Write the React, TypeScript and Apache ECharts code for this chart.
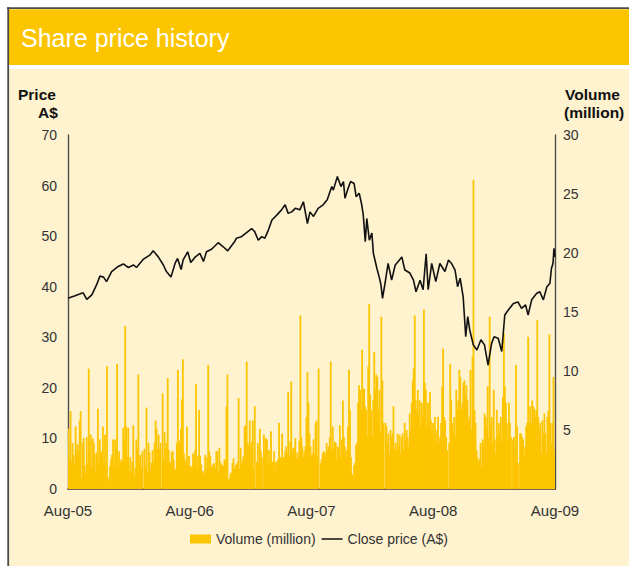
import React, { useEffect, useRef } from "react";
import * as echarts from "echarts";

// X tick labels (one every 12 months from Aug-05)
const tickLabels = ["Aug-05", "Aug-06", "Aug-07", "Aug-08", "Aug-09"];

// Close price: months since Aug-05, and price in A$
const priceMonths = [
  0.0, 0.7, 1.35, 1.5, 1.85, 2.35, 2.8, 3.15, 3.5, 3.8, 4.3, 4.95, 5.45, 5.95, 6.45, 6.75, 7.4, 8.1, 8.4, 8.9,
  9.4, 9.7, 10.15, 10.55, 10.8, 11.15, 11.35, 11.8, 12.1, 12.5, 13.0, 13.35, 13.65, 14.15, 14.8, 15.3, 15.75,
  16.15, 16.45, 16.6, 17.1, 17.6, 18.1, 18.4, 18.75, 19.1, 19.4, 19.75, 20.1, 20.6, 21.05, 21.4, 21.7, 22.05,
  22.4, 22.85, 23.2, 23.6, 23.85, 24.2, 24.65, 25.15, 25.55, 26.0, 26.15, 26.55, 26.9, 27.15, 27.3, 27.55,
  27.85, 28.2, 28.4, 28.7, 28.95, 29.1, 29.3, 29.45, 29.7, 29.95, 30.1, 30.45, 30.7, 30.85, 31.0, 31.25,
  31.55, 31.9, 32.25, 32.55, 32.9, 33.2, 33.7, 34.05, 34.3, 34.7, 35.0, 35.3, 35.5, 35.85, 36.25, 36.65,
  37.15, 37.5, 37.8, 38.15, 38.4, 38.65, 38.95, 39.2, 39.4, 39.6, 39.95, 40.3, 40.7, 41.05, 41.25, 41.4,
  41.75, 42.0, 42.4, 42.75, 43.05, 43.4, 43.9, 44.35, 44.7, 45.1, 45.35, 45.7, 46.2, 46.5, 46.85, 47.2,
  47.5, 47.65, 47.8, 47.9, 48.0,
];
const priceValues = [
  37.7, 38.2, 38.7, 38.8, 37.5, 38.4, 40.3, 42.1, 41.9, 41.0, 43.0, 44.0, 44.5, 43.8, 44.3, 43.8, 45.4, 46.3, 47.1, 45.9,
  44.3, 43.0, 41.9, 44.6, 45.6, 43.4, 45.3, 46.9, 44.8, 45.8, 46.6, 45.0, 46.9, 47.4, 48.7, 47.9, 47.1,
  48.2, 49.0, 49.6, 49.9, 50.7, 51.5, 50.9, 49.2, 49.9, 49.6, 51.2, 53.2, 54.2, 55.2, 56.2, 54.5, 54.8,
  55.5, 55.2, 56.8, 52.5, 54.8, 53.9, 55.5, 56.2, 57.2, 59.8, 59.1, 61.8, 59.8, 60.8, 57.5, 59.1,
  60.8, 60.4, 57.8, 58.5, 56.2, 54.2, 48.9, 53.5, 49.2, 50.6, 46.6, 43.6, 41.7, 40.3, 37.7, 40.7,
  44.6, 41.3, 44.3, 45.0, 45.9, 43.3, 42.7, 41.3, 39.0, 41.3, 39.4, 46.5, 39.4, 44.6, 41.0, 44.6,
  43.0, 45.3, 44.6, 43.3, 40.0, 41.7, 38.0, 30.1, 34.1, 31.4, 28.5, 27.5, 29.5, 28.5, 26.2, 24.5,
  28.8, 30.1, 29.8, 27.2, 34.4, 35.4, 36.7, 37.0, 35.7, 36.4, 34.4, 37.4, 38.7, 39.0, 37.4, 40.0,
  40.7, 43.6, 44.6, 47.6, 45.9,
];

// Daily-ish traded volume (million), left to right
const volumeMillions = [
  5.1, 2.6, 6.6, 2.3, 3.9, 2.9, 2.0, 5.3, 3.3, 3.8, 3.2, 5.8, 6.6, 0.9, 3.9, 4.3, 2.0, 1.3, 4.4, 2.2,
  10.2, 4.0, 4.6, 1.75, 4.3, 3.9, 3.0, 1.5, 3.1, 6.8, 2.2, 4.2, 3.0, 3.2, 5.3, 2.3, 4.6, 1.9, 10.4, 1.0,
  0.8, 1.9, 2.5, 2.9, 4.2, 1.9, 4.2, 3.4, 10.6, 1.75, 3.2, 2.2, 2.5, 2.3, 5.2, 4.1, 13.8, 5.3, 2.7, 5.2,
  1.5, 2.7, 1.5, 2.3, 5.4, 1.0, 1.8, 4.2, 3.5, 9.7, 2.7, 2.9, 1.75, 3.2, 0, 3.4, 1.9, 6.9, 1.4, 3.9,
  3.1, 1.8, 2.2, 3.3, 2.3, 3.9, 5.8, 5.1, 3.4, 4.6, 3.4, 3.9, 0, 8.1, 2.6, 4.8, 3.4, 3.9, 9.4, 3.3,
  2.2, 2.3, 3.1, 3.2, 2.5, 1.6, 1.7, 3.9, 10.1, 3.8, 4.1, 5.1, 7.6, 11.0, 3.0, 2.5, 2.0, 5.3, 2.2, 2.8,
  1.9, 1.7, 2.0, 3.0, 2.3, 3.3, 8.9, 1.8, 2.8, 6.7, 2.8, 2.1, 1.5, 1.5, 1.2, 2.9, 1.7, 2.7, 10.5, 3.2,
  2.8, 1.75, 2.0, 2.1, 2.2, 1.7, 3.2, 3.2, 1.3, 3.5, 2.3, 2.1, 2.0, 1.9, 2.5, 2.5, 7.0, 9.7, 0.8, 0.9,
  1.3, 1.4, 2.2, 2.6, 1.7, 2.0, 2.1, 2.3, 7.7, 1.7, 3.5, 2.1, 2.5, 2.8, 5.3, 5.4, 10.8, 3.9, 3.6, 5.8,
  3.6, 4.0, 5.8, 1.7, 7.0, 0, 2.3, 3.9, 2.2, 5.1, 3.2, 2.7, 0, 4.6, 3.0, 4.3, 4.2, 2.1, 3.3, 2.5,
  4.9, 2.2, 2.3, 3.2, 1.3, 2.3, 1.9, 2.5, 5.6, 2.7, 2.5, 4.7, 2.7, 2.7, 3.2, 3.6, 3.0, 8.2, 2.7, 4.0,
  9.1, 3.2, 3.5, 3.4, 4.3, 2.6, 3.1, 2.6, 4.1, 14.7, 4.4, 3.6, 2.7, 3.2, 3.6, 6.1, 9.9,
  7.3, 4.7, 3.6, 2.7, 3.0, 4.2, 2.9, 5.6, 5.8, 2.7, 10.2, 0, 2.2, 2.5, 3.0, 3.2, 3.1, 2.9, 3.9, 3.2,
  3.6, 4.4, 10.8, 3.4, 5.3, 3.3, 4.0, 3.9, 2.5, 3.6, 3.3, 5.4, 2.7, 4.2, 7.5, 4.4, 3.6, 2.7, 3.3, 5.3,
  10.1, 6.7, 2.7, 1.3, 1.0, 2.0, 2.2, 3.7, 3.9, 7.3, 8.8, 8.4, 6.7, 11.8, 8.5, 8.5, 7.0, 6.7, 4.4, 10.4,
  15.7, 8.0, 6.7, 4.4, 7.5, 11.6, 8.4, 9.7, 9.5, 6.7, 8.4, 4.7, 14.6, 9.2, 5.6, 0, 5.6, 5.3, 3.9, 4.7,
  3.0, 5.0, 4.4, 4.7, 7.0, 3.3, 3.9, 3.4, 4.7, 3.6, 4.6, 3.0, 4.4, 4.7, 3.3, 5.6, 4.2, 5.0, 4.4, 3.6,
  6.4, 5.0, 7.3, 9.2, 10.2, 14.7, 7.5, 6.7, 8.4, 6.4, 7.5, 5.3, 7.3, 6.1, 15.2, 9.0, 8.4, 5.3, 7.3, 5.6,
  8.2, 5.8, 5.0, 5.6, 4.7, 6.1, 3.9, 5.0, 6.1, 3.9, 4.4, 5.6, 8.7, 11.9, 6.1, 5.8, 4.4, 3.3, 0, 3.9,
  10.6, 7.5, 5.6, 5.0, 6.1, 4.4, 8.4, 6.7, 7.5, 10.1, 9.5, 6.7, 7.3, 9.0, 9.2, 7.8, 8.8, 7.5, 5.8, 6.1,
  10.1, 5.0, 11.2, 26.2, 6.7, 5.6, 3.3, 2.7, 2.2, 2.5, 3.9, 1.9, 4.2, 3.9, 6.4, 6.1, 5.3, 8.7, 4.4, 14.6,
  5.6, 6.1, 3.9, 8.4, 4.2, 3.0, 6.7, 4.4, 5.6, 5.0, 6.1, 3.9, 7.8, 13.2, 8.7, 7.3, 5.6, 4.2, 7.3, 5.6,
  4.4, 0, 4.2, 4.4, 3.3, 10.5, 5.3, 2.2, 0, 4.7, 4.7, 4.4, 4.2, 2.7, 3.6, 5.3, 5.6, 12.9, 5.6, 7.0,
  5.6, 7.5, 7.0, 6.8, 6.1, 6.7, 14.3, 6.1, 5.0, 5.6, 3.0, 5.8, 4.7, 6.4, 4.7, 3.0, 6.1, 6.6, 13.1, 5.6,
  3.9, 5.6, 9.5, 3.3,
];

const FONT = "'Liberation Sans', Arial, Helvetica, sans-serif";
const TEXT = "#333333";
const AXIS = "#4f4f4f";
const YELLOW = "#FDC500";
const CREAM = "#FEF2CF";

export default function App() {
  const ref = useRef<HTMLDivElement>(null);

  useEffect(() => {
    if (!ref.current) return;
    const chart = echarts.init(ref.current, undefined, { renderer: "svg" });
    chart.setOption({
      animation: false,
      backgroundColor: "#ffffff",
      textStyle: { fontFamily: FONT },
      title: {
        text: "Share price history",
        left: 21,
        top: 25,
        padding: 0,
        textStyle: { color: "#ffffff", fontSize: 25, fontWeight: "normal", fontFamily: FONT },
      },
      graphic: [
        { type: "rect", z: -10, silent: true, shape: { x: 8, y: 69, width: 621, height: 497 }, style: { fill: CREAM } },
        { type: "rect", z: -10, silent: true, shape: { x: 8, y: 9.3, width: 621, height: 55.7 }, style: { fill: YELLOW } },
        { type: "line", z: -5, silent: true, shape: { x1: 7, y1: 8.2, x2: 629, y2: 8.2 }, style: { stroke: "#4a4a4a", lineWidth: 1.8 } },
        { type: "line", z: -5, silent: true, shape: { x1: 8.2, y1: 7.3, x2: 8.2, y2: 566 }, style: { stroke: "#4a4a4a", lineWidth: 1.8 } },
        {
          type: "text", left: 18, top: 86, silent: true,
          style: { text: "Price", fill: "#111", font: `bold 15.5px ${FONT}` },
        },
        {
          type: "text", left: 38, top: 104, silent: true,
          style: { text: "A$", fill: "#111", font: `bold 15.5px ${FONT}` },
        },
        {
          type: "text", left: 565, top: 86, silent: true,
          style: { text: "Volume", fill: "#111", font: `bold 15.5px ${FONT}` },
        },
        {
          type: "text", left: 564, top: 104, silent: true,
          style: { text: "(million)", fill: "#111", font: `bold 15.5px ${FONT}` },
        },
      ],
      legend: {
        data: [
          { name: "Volume (million)", icon: "rect" },
          { name: "Close price (A$)", icon: "path://M0 0H21V1.5H0Z" },
        ],
        left: 185,
        top: 527,
        itemWidth: 21,
        itemHeight: 9,
        itemGap: 6,
        selectedMode: false,
        textStyle: { fontSize: 14, color: TEXT, fontFamily: FONT },
      },
      grid: { left: 68, right: 74, top: 135, bottom: 77, containLabel: false },
      xAxis: [
        {
          type: "value",
          min: 0,
          max: 48,
          interval: 12,
          axisLine: { show: true, lineStyle: { color: "#3f3b35", width: 1.7 } },
          axisTick: { show: false },
          splitLine: { show: false },
          axisLabel: {
            margin: 14,
            fontSize: 15,
            color: TEXT,
            fontFamily: FONT,
            formatter: (v: number) => tickLabels[Math.round(v / 12)] ?? "",
          },
        },
        {
          type: "category",
          show: false,
          boundaryGap: true,
          data: volumeMillions.map((_, i) => String(i)),
        },
      ],
      yAxis: [
        {
          type: "value",
          min: 0,
          max: 70,
          interval: 10,
          position: "left",
          axisLine: { show: true, lineStyle: { color: AXIS, width: 1.4 } },
          axisTick: { show: false },
          splitLine: { show: false },
          axisLabel: { margin: 11, fontSize: 14, color: TEXT, fontFamily: FONT },
        },
        {
          type: "value",
          min: 0,
          max: 30,
          interval: 5,
          position: "right",
          axisLine: { show: true, lineStyle: { color: AXIS, width: 1.4 } },
          axisTick: { show: false },
          splitLine: { show: false },
          axisLabel: {
            margin: 8,
            fontSize: 14,
            color: TEXT,
            fontFamily: FONT,
            formatter: (v: number) => (v === 0 ? "" : String(v)),
          },
        },
      ],
      series: [
        {
          name: "Volume (million)",
          type: "bar",
          xAxisIndex: 1,
          yAxisIndex: 1,
          data: volumeMillions,
          barWidth: 1.8,
          itemStyle: { color: YELLOW },
          z: 2,
          silent: true,
        },
        {
          name: "Close price (A$)",
          type: "line",
          xAxisIndex: 0,
          yAxisIndex: 0,
          data: priceMonths.map((m, i) => [m, priceValues[i]]),
          symbol: "none",
          itemStyle: { color: "#111111" },
          lineStyle: { color: "#111111", width: 1.6 },
          z: 3,
          silent: true,
        },
      ],
    });
    return () => chart.dispose();
  }, []);

  return (
    <div
      ref={ref}
      style={{ position: "absolute", left: 0, top: 0, width: 629, height: 566 }}
    />
  );
}
